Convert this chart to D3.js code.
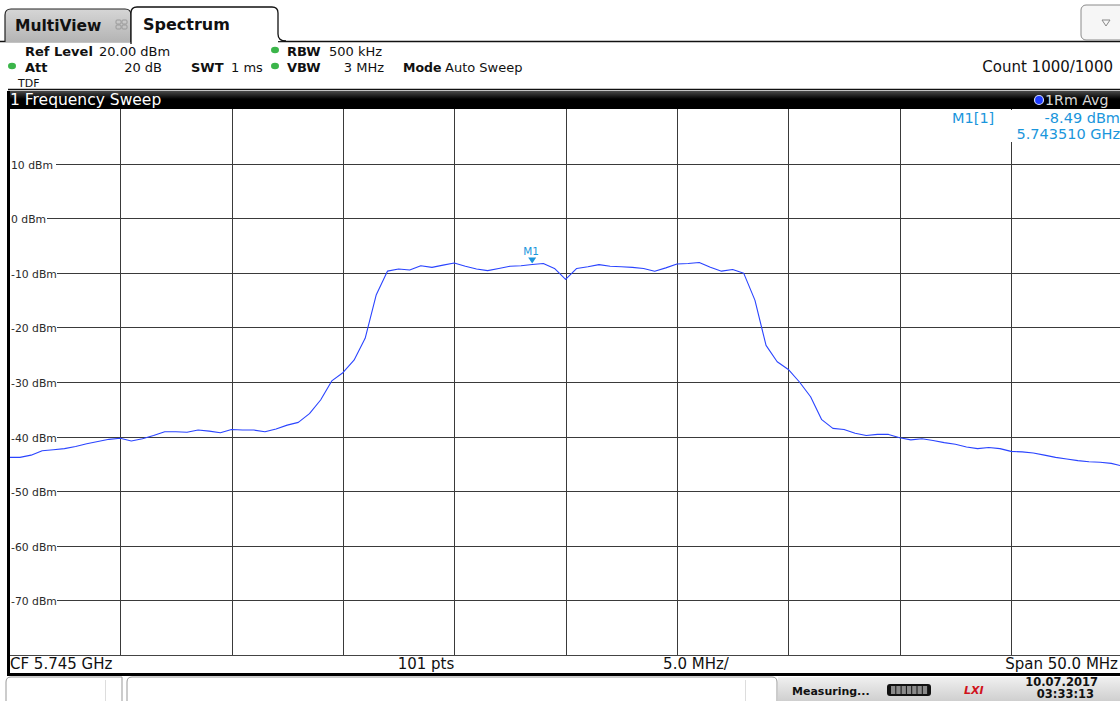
<!DOCTYPE html>
<html>
<head>
<meta charset="utf-8">
<script src="https://cdn.jsdelivr.net/npm/d3@7"></script>
<style>
  html, body { margin: 0; padding: 0; background: #fff; }
  svg { display: block; font-family: "DejaVu Sans", Verdana, sans-serif; }
</style>
</head>
<body>
<div id="chart"></div>
<script>
// Spectrum analyzer trace, 101 sweep points from 5.720 to 5.770 GHz
const startGHz = 5.72;
const stopGHz = 5.77;
const levelTicks = [10, 0, -10, -20, -30, -40, -50, -60, -70];
const traceDbm = [
  -43.8, -43.8, -43.4, -42.6, -42.4, -42.2, -41.8, -41.3, -40.9, -40.5,
  -40.3, -40.8, -40.4, -39.8, -39.1, -39.1, -39.2, -38.8, -39.0, -39.3,
  -38.7, -38.8, -38.8, -39.1, -38.6, -37.9, -37.4, -35.8, -33.3, -29.8,
  -28.3, -26.0, -22.0, -14.0, -9.7, -9.3, -9.5, -8.7, -9.0, -8.6,
  -8.2, -8.8, -9.3, -9.6, -9.2, -8.8, -8.7, -8.49, -8.3, -9.2,
  -11.2, -9.2, -8.9, -8.5, -8.8, -8.9, -9.0, -9.2, -9.7, -9.1,
  -8.4, -8.3, -8.1, -9.0, -9.7, -9.4, -10.1, -15.0, -23.3, -26.3,
  -27.7, -30.0, -32.7, -36.9, -38.5, -38.7, -39.4, -39.8, -39.6, -39.6,
  -40.2, -40.6, -40.4, -40.7, -41.1, -41.4, -41.9, -42.2, -42.0, -42.2,
  -42.7, -42.8, -43.0, -43.4, -43.8, -44.1, -44.4, -44.6, -44.7, -44.9,
  -45.4
];
const marker = { label: "M1", index: 47, freq: "5.743510 GHz", level: "-8.49 dBm" };

const W = 1120, H = 701;
const plot = { left: 8.8, right: 1122.4, top: 109, bottom: 655 };
const colors = {
  trace: "#2a44ff",
  marker: "#1a96dc",
  grid: "#3a3a3a",
  led: "#3bb54a"
};

const svg = d3.select("#chart").append("svg")
  .attr("width", W)
  .attr("height", H);

const defs = svg.append("defs");
const barGrad = defs.append("linearGradient").attr("id", "barGrad").attr("x1", 0).attr("y1", 0).attr("x2", 0).attr("y2", 1);
barGrad.append("stop").attr("offset", "0%").attr("stop-color", "#4a4a4a");
barGrad.append("stop").attr("offset", "45%").attr("stop-color", "#000");
barGrad.append("stop").attr("offset", "100%").attr("stop-color", "#000");
const tabGrad = defs.append("linearGradient").attr("id", "tabGrad").attr("x1", 0).attr("y1", 0).attr("x2", 0).attr("y2", 1);
tabGrad.append("stop").attr("offset", "0%").attr("stop-color", "#d6d6d6");
tabGrad.append("stop").attr("offset", "100%").attr("stop-color", "#b4b4b4");
const statGrad = defs.append("linearGradient").attr("id", "statGrad").attr("x1", 0).attr("y1", 0).attr("x2", 0).attr("y2", 1);
statGrad.append("stop").attr("offset", "0%").attr("stop-color", "#f0f0f0");
statGrad.append("stop").attr("offset", "100%").attr("stop-color", "#cfcfcf");

// ---- tabs ----
svg.append("line")
  .attr("x1", 0).attr("x2", W).attr("y1", 41.5).attr("y2", 41.5)
  .attr("stroke", "#111").attr("stroke-width", 1.5);

svg.append("path")
  .attr("d", "M5,42 L5,15 Q5,9 11,9 L125,9 Q131,9 131,15 L131,42")
  .attr("fill", "url(#tabGrad)")
  .attr("stroke", "#222").attr("stroke-width", 1.2);
svg.append("text")
  .attr("x", 15).attr("y", 31)
  .attr("font-size", 15.5).attr("font-weight", "bold").attr("fill", "#111")
  .text("MultiView");
// little grid icon
const icon = svg.append("g").attr("transform", "translate(116,20)");
[[0, 0], [6, 0], [0, 5], [6, 5]].forEach(([dx, dy]) => {
  icon.append("rect").attr("x", dx).attr("y", dy).attr("width", 5).attr("height", 4)
    .attr("rx", 1).attr("fill", "none").attr("stroke", "#9a9a9a").attr("stroke-width", 1);
});

svg.append("path")
  .attr("d", "M131,44 L131,13 Q131,7 137,7 L272,7 Q278,7 278,13 L278,34 Q278,41 286,41")
  .attr("fill", "#fff")
  .attr("stroke", "#111").attr("stroke-width", 1.3);
svg.append("rect").attr("x", 132).attr("y", 38).attr("width", 146).attr("height", 6).attr("fill", "#fff");
svg.append("text")
  .attr("x", 143).attr("y", 30)
  .attr("font-size", 16).attr("font-weight", "bold").attr("fill", "#111")
  .text("Spectrum");

// dropdown button
svg.append("rect")
  .attr("x", 1081).attr("y", 5).attr("width", 46).attr("height", 35).attr("rx", 5)
  .attr("fill", "#f6f6f6").attr("stroke", "#8a8a8a");
svg.append("path")
  .attr("d", "M1102,20 L1110,20 L1106,26 Z")
  .attr("fill", "none").attr("stroke", "#888").attr("stroke-width", 1);

// ---- settings block ----
const info = svg.append("g").attr("font-size", 13).attr("fill", "#111");
function led(x, y) {
  info.append("ellipse").attr("cx", x).attr("cy", y).attr("rx", 4).attr("ry", 3.2).attr("fill", colors.led);
}
function label(x, y, bold, txt, anchor, size) {
  info.append("text").attr("x", x).attr("y", y)
    .attr("font-weight", bold ? "bold" : "normal")
    .attr("text-anchor", anchor || "start")
    .attr("font-size", size || 13)
    .attr("fill", "#111")
    .text(txt);
}
label(25, 56, true, "Ref Level");
label(99, 56, false, "20.00 dBm");
led(12, 66);
label(25, 72, true, "Att");
label(162, 72, false, "20 dB", "end");
label(191, 72, true, "SWT");
label(231, 72, false, "1 ms");
led(275, 50);
label(287, 56, true, "RBW");
label(329, 56, false, "500 kHz");
led(275, 66);
label(287, 72, true, "VBW");
label(384, 72, false, "3 MHz", "end");
label(403, 72, true, "Mode", "start", 12.5);
label(445, 72, false, "Auto Sweep");
info.append("text").attr("x", 18).attr("y", 87).attr("font-size", 11).attr("fill", "#111").text("TDF");
label(1113, 72, false, "Count 1000/1000", "end", 15);

svg.append("line")
  .attr("x1", 8).attr("x2", W).attr("y1", 89.5).attr("y2", 89.5)
  .attr("stroke", "#111").attr("stroke-width", 1.5);

// ---- window title bar ----
svg.append("rect")
  .attr("x", 8).attr("y", 91).attr("width", W - 8).attr("height", 18)
  .attr("fill", "url(#barGrad)");
svg.append("text")
  .attr("x", 10).attr("y", 105)
  .attr("font-size", 15.5).attr("fill", "#fff")
  .text("1 Frequency Sweep");
svg.append("circle").attr("cx", 1039).attr("cy", 100).attr("r", 4.5)
  .attr("fill", "#1f3cff").attr("stroke", "#cfd8ff").attr("stroke-width", 1.2);
svg.append("text")
  .attr("x", 1045).attr("y", 105)
  .attr("font-size", 14.2).attr("fill", "#d8d8d8")
  .text("1Rm Avg");

// ---- scales ----
const x = d3.scaleLinear().domain([startGHz, stopGHz]).range([plot.left, plot.right]);
const y = d3.scaleLinear().domain([-80, 20]).range([plot.bottom, plot.top]);
const freqs = traceDbm.map((_, i) => startGHz + i * (stopGHz - startGHz) / (traceDbm.length - 1));

// ---- grid ----
const grid = svg.append("g");
const vTicks = d3.range(1, 10).map(k => startGHz + k * (stopGHz - startGHz) / 10);
grid.selectAll("line.v")
  .data(vTicks)
  .join("line")
  .attr("class", "v")
  .attr("x1", d => Math.round(x(d)) + 0.5).attr("x2", d => Math.round(x(d)) + 0.5)
  .attr("y1", plot.top).attr("y2", plot.bottom)
  .attr("stroke", colors.grid).attr("stroke-width", 1);
grid.selectAll("line.h")
  .data(levelTicks)
  .join("line")
  .attr("class", "h")
  .attr("x1", plot.left).attr("x2", W)
  .attr("y1", d => Math.round(y(d)) + 0.5).attr("y2", d => Math.round(y(d)) + 0.5)
  .attr("stroke", colors.grid).attr("stroke-width", 1);

// y labels with white backing so the gridline begins after the text
const yLab = grid.selectAll("g.ylab")
  .data(levelTicks)
  .join("g")
  .attr("class", "ylab")
  .attr("transform", d => `translate(11,${Math.round(y(d)) + 0.5})`);
yLab.append("rect")
  .attr("x", -1).attr("y", -6)
  .attr("width", d => d < 0 ? 47 : (d >= 10 ? 46 : 37))
  .attr("height", 12).attr("fill", "#fff");
yLab.append("text")
  .attr("y", 4)
  .attr("font-size", 10.8).attr("fill", "#2a2a2a")
  .text(d => `${d} dBm`);

// ---- marker info (top-right) ----
svg.append("rect").attr("x", 945).attr("y", 110).attr("width", 175).attr("height", 32).attr("fill", "#fff");
const mInfo = svg.append("g").attr("font-size", 14.5).attr("fill", colors.marker);
mInfo.append("text").attr("x", 952).attr("y", 123).attr("fill", colors.marker).text(`${marker.label}[1]`);
mInfo.append("text").attr("x", 1120).attr("y", 123).attr("text-anchor", "end").attr("fill", colors.marker).text(marker.level);
mInfo.append("text").attr("x", 1120).attr("y", 139).attr("text-anchor", "end").attr("fill", colors.marker).text(marker.freq);

// ---- trace ----
const line = d3.line()
  .x((d, i) => x(freqs[i]))
  .y(d => y(d));
svg.append("path")
  .datum(traceDbm)
  .attr("d", line)
  .attr("fill", "none")
  .attr("stroke", colors.trace)
  .attr("stroke-width", 1.1)
  .attr("stroke-linejoin", "round");

// marker triangle + label
const mx = x(freqs[marker.index]);
const my = y(traceDbm[marker.index]);
svg.append("path")
  .attr("d", `M${mx - 4},${my - 7} L${mx + 4},${my - 7} L${mx},${my - 1} Z`)
  .attr("fill", colors.marker);
svg.append("text")
  .attr("x", mx - 1).attr("y", my - 10)
  .attr("text-anchor", "middle")
  .attr("font-size", 10.5).attr("fill", colors.marker)
  .text(marker.label);

// ---- bottom info bar ----
svg.append("rect").attr("x", 9).attr("y", 656).attr("width", W - 9).attr("height", 17).attr("fill", "#fff");
svg.append("line")
  .attr("x1", 9).attr("x2", W).attr("y1", 655.5).attr("y2", 655.5)
  .attr("stroke", "#444").attr("stroke-width", 1);
const foot = svg.append("g").attr("font-size", 15).attr("fill", "#111");
foot.append("text").attr("x", 10).attr("y", 669).text("CF 5.745 GHz");
foot.append("text").attr("x", 426).attr("y", 669).attr("text-anchor", "middle").text("101 pts");
foot.append("text").attr("x", 696).attr("y", 669).attr("text-anchor", "middle").text("5.0 MHz/");
foot.append("text").attr("x", 1118).attr("y", 669).attr("text-anchor", "end").text("Span 50.0 MHz");

svg.append("rect").attr("x", 7).attr("y", 673).attr("width", W - 7).attr("height", 3).attr("fill", "#000");
svg.append("rect").attr("x", 7).attr("y", 91).attr("width", 3).attr("height", 585).attr("fill", "#000");

// ---- status bar ----
svg.append("path")
  .attr("d", "M6,701 L6,682 Q6,677 11,677 L122,677 L122,701")
  .attr("fill", "#fff").attr("stroke", "#999").attr("stroke-width", 1);
svg.append("line").attr("x1", 105.5).attr("x2", 105.5).attr("y1", 680).attr("y2", 701).attr("stroke", "#ddd");
svg.append("path")
  .attr("d", "M127,701 L127,682 Q127,677 132,677 L772,677 Q777,677 777,682 L777,701")
  .attr("fill", "#fff").attr("stroke", "#999").attr("stroke-width", 1);
svg.append("line").attr("x1", 745.5).attr("x2", 745.5).attr("y1", 680).attr("y2", 701).attr("stroke", "#ddd");
svg.append("rect").attr("x", 778).attr("y", 677).attr("width", W - 778).attr("height", 24).attr("fill", "url(#statGrad)");

svg.append("text")
  .attr("x", 792).attr("y", 695)
  .attr("font-size", 11).attr("font-weight", "bold").attr("fill", "#111")
  .text("Measuring...");
svg.append("rect").attr("x", 887).attr("y", 684).attr("width", 44).attr("height", 12).attr("rx", 3).attr("fill", "#111");
d3.range(7).forEach(k => {
  svg.append("rect").attr("x", 891 + k * 5.3).attr("y", 686).attr("width", 4.3).attr("height", 8).attr("fill", "#8a8a8a");
});
svg.append("text")
  .attr("x", 964).attr("y", 694)
  .attr("font-size", 11).attr("font-weight", "bold").attr("font-style", "italic").attr("fill", "#d0121b")
  .text("LXI");
svg.append("text")
  .attr("x", 1098).attr("y", 686).attr("text-anchor", "end")
  .attr("font-size", 11.5).attr("font-weight", "bold").attr("fill", "#111")
  .text("10.07.2017");
svg.append("text")
  .attr("x", 1094).attr("y", 698).attr("text-anchor", "end")
  .attr("font-size", 11.5).attr("font-weight", "bold").attr("fill", "#111")
  .text("03:33:13");
</script>
</body>
</html>
